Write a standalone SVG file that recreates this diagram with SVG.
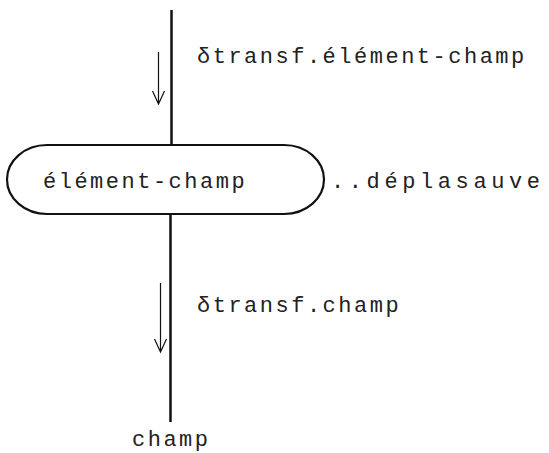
<svg xmlns="http://www.w3.org/2000/svg" width="549" height="453" viewBox="0 0 549 453">
<defs>
<style>
.t{font-family:"Liberation Mono","Courier New",monospace;font-size:22px;letter-spacing:2.5px;fill:#222}
.main{stroke:#111;stroke-width:2.5;fill:none}
.arr{stroke:#111;stroke-width:1.2;fill:none}
.box{stroke:#111;stroke-width:2.2;fill:#fff}
</style>
</defs>
<rect width="549" height="453" fill="#fff"/>
<g id="connectors">
<line class="main" x1="171.5" y1="10" x2="171.5" y2="145"/>
<line class="main" x1="170.5" y1="214" x2="170.5" y2="422"/>
<path class="arr" d="M158.5 52 V103 M152.5 91 L158.5 104 L164.5 91"/>
<path class="arr" d="M160.5 283 V351 M154.5 339 L160.5 352 L166.5 339"/>
<text class="t" x="197" y="63">δtransf.élément-champ</text>
<text class="t" x="197" y="312">δtransf.champ</text>
</g>
<g id="node-element-champ">
<rect class="box" x="7" y="145" width="317" height="69" rx="40" ry="34.5"/>
<text class="t" x="43" y="188">élément-champ</text>
</g>
<g id="node-deplasauve">
<text class="t" x="331" y="188" style="letter-spacing:4.6px">..déplasauve</text>
</g>
<g id="node-champ">
<text class="t" x="132" y="446">champ</text>
</g>
</svg>
